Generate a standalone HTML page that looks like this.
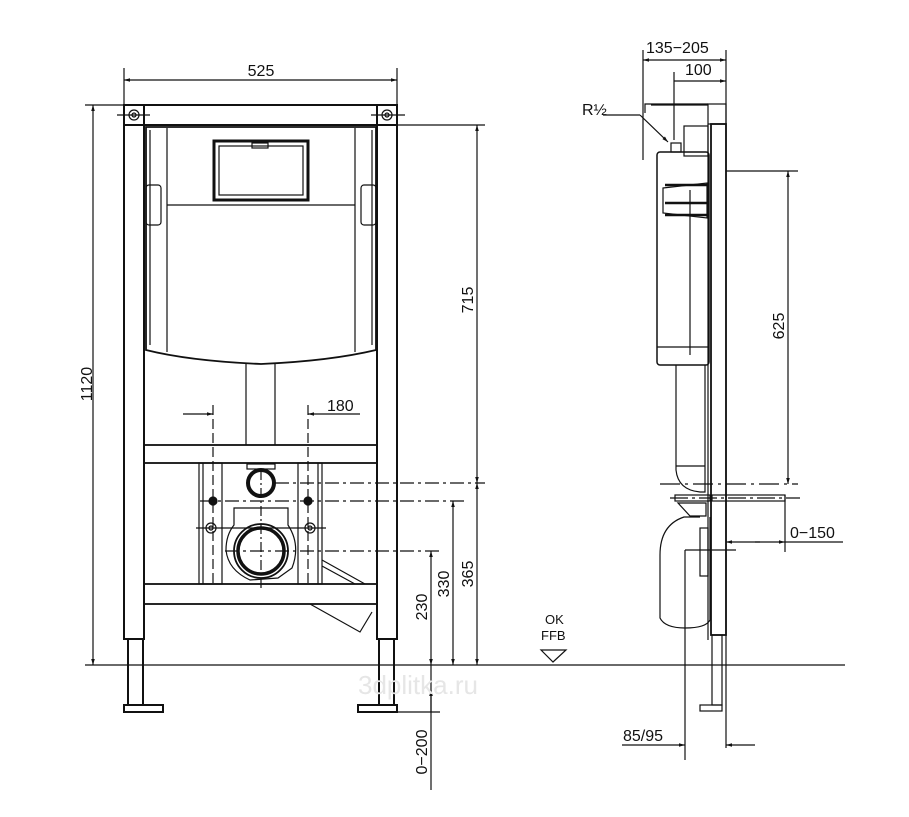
<!DOCTYPE html>
<html><head><meta charset="utf-8"><style>
html,body{margin:0;padding:0;background:#fff}
svg{display:block}
text{font-family:"Liberation Sans",Arial,sans-serif;fill:#111}
</style></head><body>
<svg width="909" height="817" viewBox="0 0 909 817" xmlns="http://www.w3.org/2000/svg">
<defs>
<marker id="a" viewBox="0 0 10 10" refX="10" refY="5" markerWidth="11" markerHeight="6" orient="auto-start-reverse" markerUnits="userSpaceOnUse"><path d="M0,2 L10,5 L0,8 z" fill="#111"/></marker>
</defs>
<g stroke="#111" fill="none" stroke-width="1.2">
<line x1="85" y1="665" x2="845" y2="665"/>
<line x1="124" y1="68" x2="124" y2="105"/><line x1="397" y1="68" x2="397" y2="105"/>
<line x1="124" y1="80" x2="397" y2="80" marker-start="url(#a)" marker-end="url(#a)"/>
<line x1="85" y1="105" x2="124" y2="105"/>
<line x1="93" y1="105" x2="93" y2="665" marker-start="url(#a)" marker-end="url(#a)"/>
<g stroke-width="2">
<rect x="124" y="105" width="273" height="20"/>
<rect x="124" y="105" width="20" height="534"/>
<rect x="377" y="105" width="20" height="534"/>
<rect x="128" y="639" width="15" height="66"/>
<rect x="379" y="639" width="15" height="66"/>
<rect x="124" y="705" width="39" height="7"/>
<rect x="358" y="705" width="39" height="7"/>
</g>
<circle cx="134" cy="115" r="5"/><circle cx="134" cy="115" r="2"/>
<circle cx="387" cy="115" r="5"/><circle cx="387" cy="115" r="2"/>
<line x1="117" y1="115" x2="150" y2="115"/><line x1="371" y1="115" x2="405" y2="115"/>
<line x1="397" y1="125" x2="485" y2="125"/>
<path d="M146,127 L376,127 L376,350 Q330,361 261,364 Q190,361 146,350 Z" stroke-width="1.8"/>
<path d="M150,130 L150,345 M372,130 L372,345"/>
<line x1="167" y1="128" x2="167" y2="352"/><line x1="355" y1="128" x2="355" y2="352"/>
<line x1="167" y1="205" x2="355" y2="205"/>
<rect x="214" y="141" width="94" height="59" stroke-width="3"/>
<rect x="219" y="146" width="84" height="49"/>
<rect x="252" y="143" width="16" height="5"/>
<rect x="146" y="185" width="15" height="40" rx="3"/>
<rect x="361" y="185" width="15" height="40" rx="3"/>
<line x1="246" y1="363" x2="246" y2="445"/><line x1="275" y1="363" x2="275" y2="445"/>
<rect x="144" y="445" width="233" height="18" stroke-width="1.8"/>
<rect x="144" y="584" width="233" height="20" stroke-width="1.8"/>
<rect x="199" y="463" width="23" height="121"/><line x1="203" y1="463" x2="203" y2="584"/>
<rect x="298" y="463" width="24" height="121"/><line x1="318" y1="463" x2="318" y2="584"/>
<line x1="183" y1="414" x2="213" y2="414" marker-end="url(#a)"/>
<line x1="308" y1="414" x2="360" y2="414" marker-start="url(#a)"/>
<line x1="213" y1="405" x2="213" y2="585" stroke-dasharray="10,4"/>
<line x1="308" y1="405" x2="308" y2="585" stroke-dasharray="10,4"/>
<circle cx="261" cy="483" r="13" stroke-width="4"/>
<rect x="247" y="464" width="28" height="5"/>
<path d="M234,508 L288,508 L288,525 Q301,545 292,568 L278,578 L250,580 Q228,570 226,550 Q226,535 234,525 Z"/>
<circle cx="261" cy="551" r="27" stroke-width="1.8"/>
<circle cx="261" cy="551" r="23" stroke-width="3.5"/>
<circle cx="213" cy="501" r="4" fill="#111"/><circle cx="308" cy="501" r="4" fill="#111"/>
<circle cx="211" cy="528" r="5"/><circle cx="310" cy="528" r="5"/>
<circle cx="211" cy="528" r="2"/><circle cx="310" cy="528" r="2"/>
<line x1="261" y1="470" x2="261" y2="590" stroke-dasharray="10,3,2,3"/>
<line x1="275" y1="483" x2="485" y2="483" stroke-dasharray="14,4,3,4"/>
<line x1="200" y1="501" x2="465" y2="501" stroke-dasharray="14,4,3,4"/>
<line x1="225" y1="551" x2="440" y2="551" stroke-dasharray="14,4,3,4"/>
<line x1="196" y1="528" x2="326" y2="528"/>
<path d="M322,560 L365,584 M310,604 L360,632 L372,612"/>
<path d="M322,566 L355,584"/>
<line x1="477" y1="125" x2="477" y2="483" marker-start="url(#a)" marker-end="url(#a)"/>
<line x1="477" y1="483" x2="477" y2="665" marker-start="url(#a)" marker-end="url(#a)"/>
<line x1="453" y1="501" x2="453" y2="665" marker-start="url(#a)" marker-end="url(#a)"/>
<line x1="431" y1="551" x2="431" y2="665" marker-start="url(#a)" marker-end="url(#a)"/>
<line x1="431" y1="665" x2="431" y2="790"/>
<line x1="431" y1="690" x2="431" y2="712" marker-start="url(#a)"/>
<line x1="363" y1="712" x2="440" y2="712"/>
<path d="M541,650 L553,662 L566,650 Z"/>
<line x1="726" y1="50" x2="726" y2="748"/>
<line x1="643" y1="50" x2="643" y2="160"/>
<line x1="643" y1="60" x2="726" y2="60" marker-start="url(#a)" marker-end="url(#a)"/>
<line x1="674" y1="72" x2="674" y2="140"/>
<line x1="674" y1="81" x2="726" y2="81" marker-end="url(#a)"/>
<path d="M645,113 L645,104 L708,104 M651,105 L708,105"/>
<rect x="708" y="104" width="18" height="20"/>
<rect x="711" y="124" width="15" height="511" stroke-width="1.8"/>
<line x1="708" y1="124" x2="708" y2="640"/>
<rect x="712" y="635" width="10" height="70"/>
<rect x="700" y="705" width="22" height="6"/>
<rect x="657" y="152" width="52" height="213" rx="3" stroke-width="1.5"/>
<rect x="684" y="126" width="24" height="30"/>
<rect x="671" y="143" width="10" height="9"/>
<line x1="657" y1="347" x2="709" y2="347"/>
<g stroke-width="2.5"><line x1="665" y1="185" x2="707" y2="185"/><line x1="665" y1="203" x2="707" y2="203"/><line x1="665" y1="215" x2="707" y2="215"/></g>
<path d="M663,188 L707,183 L707,218 L663,213 Z"/>
<line x1="690" y1="190" x2="690" y2="355"/>
<path d="M676,365 L676,470 Q678,490 700,492 L705,492 L705,365"/>
<line x1="676" y1="466" x2="705" y2="466"/>
<rect x="675" y="495" width="35" height="6"/>
<rect x="712" y="495" width="73" height="6"/>
<line x1="670" y1="498" x2="800" y2="498" stroke-dasharray="18,4,3,4"/>
<path d="M678,503 L706,503 L706,516 L690,516 Z"/>
<path d="M700,517 L684,517 Q660,525 660,555 L660,618 Q665,628 685,628 Q706,628 710,620 L710,517"/>
<rect x="700" y="528" width="8" height="48"/>
<line x1="685" y1="550" x2="685" y2="760"/>
<line x1="685" y1="550" x2="736" y2="550"/>
<line x1="726" y1="171" x2="798" y2="171"/>
<line x1="660" y1="484" x2="798" y2="484" stroke-dasharray="20,5,3,5"/>
<line x1="788" y1="171" x2="788" y2="484" marker-start="url(#a)" marker-end="url(#a)"/>
<line x1="785" y1="495" x2="785" y2="552"/>
<line x1="726" y1="542" x2="760" y2="542" marker-start="url(#a)"/>
<line x1="755" y1="542" x2="785" y2="542" marker-end="url(#a)"/>
<line x1="785" y1="542" x2="843" y2="542"/>
<line x1="622" y1="745" x2="685" y2="745" marker-end="url(#a)"/>
<line x1="726" y1="745" x2="755" y2="745" marker-start="url(#a)"/>
<line x1="603" y1="115" x2="640" y2="115"/>
<line x1="640" y1="115" x2="668" y2="142" marker-end="url(#a)"/>
</g>
<g font-size="16">
<text x="261" y="76" text-anchor="middle">525</text>
<text x="327" y="411">180</text>
<text x="646" y="53">135−205</text>
<text x="685" y="75">100</text>
<text x="582" y="115">R½</text>
<text x="790" y="538">0−150</text>
<text x="623" y="741">85/95</text>
<text x="545" y="624" font-size="13">OK</text>
<text x="541" y="640" font-size="13">FFB</text>
<text transform="translate(92,384) rotate(-90)" text-anchor="middle">1120</text>
<text transform="translate(473,300) rotate(-90)" text-anchor="middle">715</text>
<text transform="translate(473,574) rotate(-90)" text-anchor="middle">365</text>
<text transform="translate(449,584) rotate(-90)" text-anchor="middle">330</text>
<text transform="translate(427,607) rotate(-90)" text-anchor="middle">230</text>
<text transform="translate(427,752) rotate(-90)" text-anchor="middle">0−200</text>
<text transform="translate(784,326) rotate(-90)" text-anchor="middle">625</text>
</g>
<text x="358" y="694" font-size="26" style="fill:#e6e6e6">3dplitka.ru</text>
</svg>
</body></html>
